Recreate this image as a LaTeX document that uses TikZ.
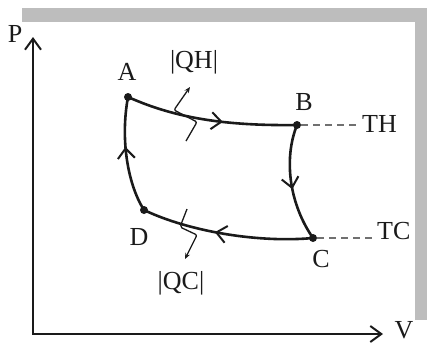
\documentclass[tikz,border=0pt]{standalone}
\usepackage{fontspec}
\setmainfont{Liberation Serif}
\usepackage{tikz}
\usetikzlibrary{arrows.meta,decorations.markings,positioning}
\definecolor{frame}{HTML}{BDBDBD}
\definecolor{ink}{HTML}{1A1A1A}
\definecolor{dashgray}{HTML}{707070}

\begin{document}
\begin{tikzpicture}[x=1pt,y=-1pt,
  state/.style={circle,fill=ink,inner sep=0pt,minimum size=8pt},
  lbl/.style={font=\fontsize{26}{30}\selectfont,inner sep=0pt,text=ink},
  axis/.style={ink,line width=2.2pt,{Straight Barb[length=11pt,width=16pt,line width=2pt]}-{Straight Barb[length=11pt,width=16pt,line width=2pt]}},
  proc/.style={ink,line width=2.6pt,postaction={decorate},
    decoration={markings,mark=at position #1 with {\arrow{Straight Barb[length=10pt,width=17pt,line width=2pt]}}}},
  iso/.style={dashgray,line width=1.6pt,dash pattern=on 7pt off 5pt},
  heat/.style={ink,line width=1.3pt,rounded corners=2pt,-{Stealth[length=6pt,width=5pt]}}]
  \useasboundingbox (0,0) rectangle (427,343);
  % grey frame
  \fill[frame] (22,8) rectangle (427,22);
  \fill[frame] (415,8) rectangle (427,320);
  % axes
  \coordinate (O) at (33,334);
  \coordinate (Ptip) at (33,37);
  \coordinate (Vtip) at (383,334);
  \draw[axis] (Ptip) -- (O) -- (Vtip);
  \node[lbl] (P) at (15,34) {P};
  \node[lbl] (V) at (404,330) {V};
  % states
  \node[state] (A) at (128,97) {};
  \node[state] (B) at (297,125) {};
  \node[state] (C) at (313,238) {};
  \node[state] (D) at (144,210) {};
  \node[lbl] (lA) at (127,72) {A};
  \node[lbl] (lB) at (304,102) {B};
  \node[lbl] (lC) at (321,259) {C};
  \node[lbl] (lD) at (139,237) {D};
  % cycle
  \draw[proc=0.57] (A.center) .. controls (175,118) and (225,126) .. (B.center);
  \draw[proc=0.55] (B.center) .. controls (283,160) and (290,205) .. (C.center);
  \draw[proc=0.57] (C.center) .. controls (260,243) and (190,232) .. (D.center);
  \draw[proc=0.57] (D.center) .. controls (128,185) and (120,140) .. (A.center);
  % reservoirs
  \node[lbl,anchor=west] (TH) at (362,124) {TH};
  \node[lbl,anchor=west] (TC) at (377,231) {TC};
  \draw[iso,shorten >=4pt] (B) -- (B -| TH.west);
  \draw[iso,shorten >=3pt] (C) -- (C -| TC.west);
  % heat flows
  \coordinate (qh0) at (186,141);
  \coordinate (qh1) at (190,87);
  \draw[heat] (qh0) -- (197,122) -- (174,110) -- (qh1);
  \node[lbl] (QH) at (194,62) {|QH|};
  \coordinate (qc0) at (187,209);
  \coordinate (qc1) at (185,259);
  \draw[heat] (qc0) -- (180,227) -- (197,235) -- (qc1);
  \node[lbl] (QC) at (181,283) {|QC|};
\end{tikzpicture}
\end{document}
